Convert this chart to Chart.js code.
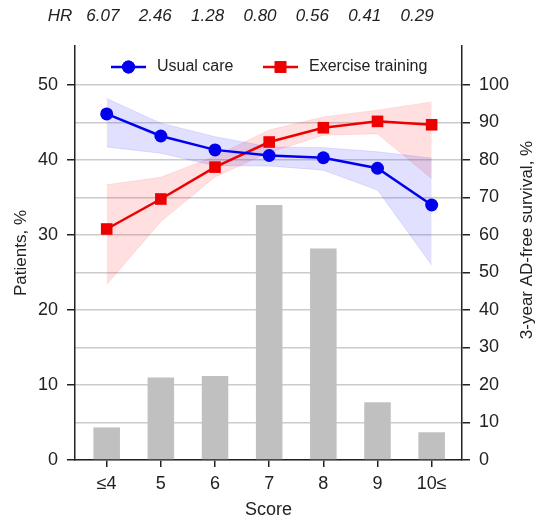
<!DOCTYPE html>
<html>
<head>
<meta charset="utf-8">
<script src="https://cdn.jsdelivr.net/npm/chart.js@4/dist/chart.umd.min.js"></script>
<style>
    html, body { margin: 0; padding: 0; background: #fff; }
</style>
</head>
<body>
<canvas id="grafica" width="539" height="525"></canvas>
<script>
const categorias = ['≤4', '5', '6', '7', '8', '9', '10≤'];
const hr = ['6.07', '2.46', '1.28', '0.80', '0.56', '0.41', '0.29'];
const series = ['Usual care', 'Exercise training'];

const pacientes = [4.35, 11.0, 11.2, 34.0, 28.2, 7.7, 3.7];

const usualCare = [92.3, 86.4, 82.7, 81.2, 80.6, 77.8, 68.0];
const usualCareSup = [96.4, 89.8, 86.2, 83.5, 83.3, 82.2, 80.5];
const usualCareInf = [83.5, 81.8, 78.5, 78.4, 77.3, 72.0, 52.0];

const ejercicio = [61.6, 69.6, 78.1, 84.8, 88.6, 90.3, 89.4];
const ejercicioSup = [73.4, 75.4, 81.0, 88.0, 91.5, 93.3, 95.5];
const ejercicioInf = [46.8, 63.6, 75.5, 82.0, 86.6, 87.0, 75.0];

const ticksIzq = [0, 10, 20, 30, 40, 50];
const ticksDer = [0, 10, 20, 30, 40, 50, 60, 70, 80, 90, 100];

const azul = '#0000ee';
const rojo = '#ee0000';
const negro = '#222';

Chart.defaults.font.family = '"Liberation Sans", Arial, sans-serif';
Chart.defaults.color = negro;

const aXY = arr => arr.map((v, i) => ({ x: i, y: v }));

// textos HR arriba
const filaHR = {
    id: 'filaHR',
    afterDraw(chart) {
        const ctx = chart.ctx;
        const xs = chart.scales.x;
        ctx.save();
        ctx.font = 'italic 17px "Liberation Sans", Arial, sans-serif';
        ctx.fillStyle = negro;
        ctx.textAlign = 'center';
        ctx.textBaseline = 'middle';
        ctx.fillText('HR', chart.chartArea.left - 15, 16);
        hr.forEach((h, i) => {
            ctx.fillText(h, xs.getPixelForValue(i * 0.967 - 0.07), 16);
        });
        ctx.restore();
    }
};

// leyenda con linea y marcador
const leyenda = {
    id: 'leyenda',
    afterDraw(chart) {
        const ctx = chart.ctx;
        const area = chart.chartArea;
        const y = area.top + 21;
        const items = [
            { texto: series[0], color: azul, estilo: 'circle', r: 6.5, x: area.left + 36 },
            { texto: series[1], color: rojo, estilo: 'rect', r: 8.2, x: area.left + 188 }
        ];
        ctx.save();
        items.forEach(it => {
            ctx.strokeStyle = it.color;
            ctx.lineWidth = 2.5;
            ctx.beginPath();
            ctx.moveTo(it.x, y);
            ctx.lineTo(it.x + 35, y);
            ctx.stroke();
            ctx.fillStyle = it.color;
            Chart.helpers.drawPoint(ctx, { pointStyle: it.estilo, radius: it.r, borderWidth: 0 }, it.x + 17.5, y);
            ctx.fill();
            ctx.fillStyle = negro;
            ctx.font = '16px "Liberation Sans", Arial, sans-serif';
            ctx.textBaseline = 'middle';
            ctx.textAlign = 'left';
            ctx.fillText(it.texto, it.x + 46, y);
        });
        ctx.restore();
    }
};

// titulo del eje derecho, leido de abajo hacia arriba
const tituloDer = {
    id: 'tituloDer',
    afterDraw(chart) {
        const ctx = chart.ctx;
        ctx.save();
        ctx.translate(chart.width - 12, chart.chartArea.top + 194);
        ctx.rotate(-Math.PI / 2);
        ctx.font = '17px "Liberation Sans", Arial, sans-serif';
        ctx.fillStyle = negro;
        ctx.textAlign = 'center';
        ctx.textBaseline = 'middle';
        ctx.fillText('3-year AD-free survival, %', 0, 0);
        ctx.restore();
    }
};

const bandaAzul = 'rgba(40, 40, 255, 0.14)';
const bandaRoja = 'rgba(255, 30, 30, 0.14)';

const ctx = document.getElementById('grafica').getContext('2d');
window.miGrafica = new Chart(ctx, {
    data: {
        datasets: [
            {
                type: 'bar',
                label: 'Patients',
                data: aXY(pacientes),
                yAxisID: 'yIzq',
                backgroundColor: '#c0c0c0',
                barPercentage: 0.49,
                categoryPercentage: 1,
                order: 10
            },
            {
                type: 'line',
                data: aXY(usualCareSup),
                yAxisID: 'yDer',
                borderColor: 'rgba(40, 40, 255, 0.12)',
                borderWidth: 1,
                backgroundColor: bandaAzul,
                pointRadius: 0,
                fill: '+1',
                order: 5
            },
            {
                type: 'line',
                data: aXY(usualCareInf),
                yAxisID: 'yDer',
                borderColor: 'rgba(40, 40, 255, 0.12)',
                borderWidth: 1,
                pointRadius: 0,
                fill: false,
                order: 5
            },
            {
                type: 'line',
                data: aXY(ejercicioSup),
                yAxisID: 'yDer',
                borderColor: 'rgba(255, 30, 30, 0.1)',
                borderWidth: 1,
                backgroundColor: bandaRoja,
                pointRadius: 0,
                fill: '+1',
                order: 5
            },
            {
                type: 'line',
                data: aXY(ejercicioInf),
                yAxisID: 'yDer',
                borderColor: 'rgba(255, 30, 30, 0.1)',
                borderWidth: 1,
                pointRadius: 0,
                fill: false,
                order: 5
            },
            {
                type: 'line',
                label: series[0],
                data: aXY(usualCare),
                yAxisID: 'yDer',
                borderColor: azul,
                backgroundColor: azul,
                pointBackgroundColor: azul,
                pointBorderWidth: 0,
                pointRadius: 6.5,
                borderWidth: 2.5,
                fill: false,
                order: 1
            },
            {
                type: 'line',
                label: series[1],
                data: aXY(ejercicio),
                yAxisID: 'yDer',
                borderColor: rojo,
                backgroundColor: rojo,
                pointBackgroundColor: rojo,
                pointBorderWidth: 0,
                pointStyle: 'rect',
                pointRadius: 8.2,
                borderWidth: 2.5,
                fill: false,
                order: 1
            }
        ]
    },
    options: {
        responsive: false,
        animation: false,
        devicePixelRatio: 1,
        layout: { padding: { top: 46, left: 0, right: 0, bottom: 0 } },
        plugins: {
            legend: { display: false },
            tooltip: { enabled: false }
        },
        scales: {
            x: {
                type: 'linear',
                position: 'bottom',
                offset: false,
                min: -0.585,
                max: 6.56,
                afterBuildTicks: s => { s.ticks = categorias.map((c, i) => ({ value: i })); },
                afterFit: s => { s.height = 65; },
                ticks: {
                    callback: v => categorias[v],
                    font: { size: 18 },
                    color: negro,
                    padding: 6,
                    maxRotation: 0
                },
                grid: { offset: false, drawOnChartArea: false, tickLength: 7, color: negro, lineWidth: 1.5 },
                border: { color: negro, width: 1.5 },
                title: { display: true, text: 'Score', font: { size: 18 }, color: negro, padding: { top: 2 } }
            },
            yIzq: {
                position: 'left',
                min: 0,
                max: 55.2,
                afterBuildTicks: s => { s.ticks = ticksIzq.map(v => ({ value: v })); },
                afterFit: s => { s.width = 75; },
                ticks: { font: { size: 18 }, color: negro, padding: 9 },
                grid: { drawOnChartArea: false, tickLength: 8, color: negro, lineWidth: 1.5 },
                border: { color: negro, width: 1.5 },
                title: { display: true, text: 'Patients, %', font: { size: 17 }, color: negro, padding: { top: 11 } }
            },
            yDer: {
                position: 'right',
                min: 0,
                max: 110.4,
                afterBuildTicks: s => { s.ticks = ticksDer.map(v => ({ value: v })); },
                afterFit: s => { s.width = 77; },
                ticks: { font: { size: 18 }, color: negro, padding: 9 },
                grid: { drawOnChartArea: true, tickLength: 8, color: '#cccccc', tickColor: negro, lineWidth: 1.5 },
                border: { color: negro, width: 1.5 }
            }
        }
    },
    plugins: [filaHR, leyenda, tituloDer]
});
</script>
</body>
</html>
